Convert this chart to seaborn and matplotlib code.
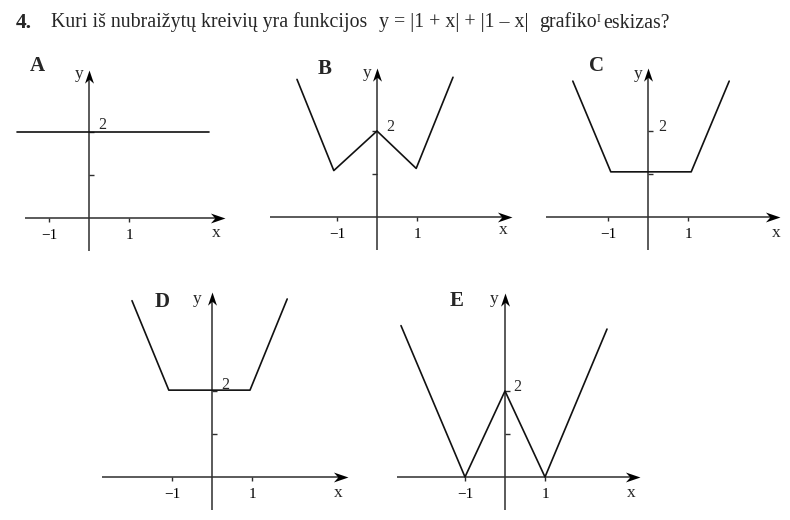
import numpy as np
import pandas as pd
import matplotlib
matplotlib.use("Agg")
import matplotlib.pyplot as plt
import seaborn as sns
from matplotlib.path import Path
from matplotlib.markers import MarkerStyle, TICKDOWN, TICKLEFT, TICKRIGHT
from matplotlib.transforms import Affine2D

sns.set_style("white")
plt.rcParams["font.family"] = ["Liberation Serif", "DejaVu Serif"]

# ---------------- data (sketch curves, in axis units) ----------------
panel_names = ["A", "B", "C", "D", "E"]
x_A = [-1.8, 3.0]
y_A = [2.0, 2.0]
x_B = [-2.0, -1.08, 0.0, 0.98, 1.9]
y_B = [3.2, 1.08, 2.0, 1.13, 3.25]
x_C = [-1.88, -0.93, 1.08, 2.03]
y_C = [3.16, 1.05, 1.05, 3.16]
x_D = [-2.0, -1.08, 0.95, 1.88]
y_D = [4.1, 2.02, 2.02, 4.14]
x_E = [-2.6, -1.0, 0.0, 1.0, 2.55]
y_E = [3.52, 0.0, 2.0, 0.0, 3.44]
x_tick_values = [-1, 1]
x_tick_labels = ["\u22121", "1"]
y_tick_values = [1, 2]
y_label_text = "2"

curves = {"A": (x_A, y_A), "B": (x_B, y_B), "C": (x_C, y_C),
          "D": (x_D, y_D), "E": (x_E, y_E)}

title_num = "4."
title_parts = ["Kuri iš nubraižytų kreivių yra funkcijos",
               "y = |1 + x| + |1 \u2013 x|", "grafiko", "I", "eskizas?"]

# ---------------- layout (pixels, origin top-left) ----------------
W, H = 790, 520
UX, UY = 40.0, 43.0
layout = {
    "A": dict(o=(89, 218), xa=(25, 225), ya=(251, 70), side=1,
              letter=(37, 66), ylab=(79, 74), xlab=(216, 233), two=(98, 125)),
    "B": dict(o=(377, 217), xa=(270, 512), ya=(250, 68), side=-1,
              letter=(325, 69), ylab=(367, 73), xlab=(503, 230), two=(386, 127)),
    "C": dict(o=(648, 217), xa=(546, 780), ya=(250, 68), side=1,
              letter=(597, 66), ylab=(638, 74), xlab=(776, 233), two=(658, 127)),
    "D": dict(o=(212, 477), xa=(102, 348), ya=(510, 292), side=1,
              letter=(162, 302), ylab=(197, 299), xlab=(338, 493), two=(221, 385)),
    "E": dict(o=(505, 477), xa=(397, 640), ya=(510, 293), side=1,
              letter=(457, 301), ylab=(494, 299), xlab=(631, 493), two=(513, 387)),
}

AXIS_COLOR = "#2e2e2e"
CURVE_COLOR = "#111111"

verts = [(0, 0), (-1, 0.34), (-0.7, 0), (-1, -0.34), (0, 0)]
codes = [Path.MOVETO, Path.LINETO, Path.LINETO, Path.LINETO, Path.CLOSEPOLY]
arrow_path = Path(verts, codes)
arrow_right = MarkerStyle(arrow_path)
arrow_up = MarkerStyle(arrow_path, transform=Affine2D().rotate_deg(90))

fig = plt.figure(figsize=(W / 100, H / 100), dpi=100)
fig.patch.set_facecolor("white")


def fx(px):
    return px / W


def fy(py):
    return 1 - py / H


for name in panel_names:
    L = layout[name]
    ox, oy = L["o"]
    ax = fig.add_axes([0, 0, 1, 1])
    ax.set_xlim(-ox / UX, (W - ox) / UX)
    ax.set_ylim(-(H - oy) / UY, oy / UY)
    ax.axis("off")
    ax.patch.set_alpha(0)

    # axes lines with arrows
    xa0, xa1 = (L["xa"][0] - ox) / UX, (L["xa"][1] - ox) / UX
    ya0, ya1 = (oy - L["ya"][0]) / UY, (oy - L["ya"][1]) / UY
    ax.plot([xa0, xa1 - 0.2], [0, 0], color=AXIS_COLOR, lw=1.1,
            solid_capstyle="butt")
    ax.plot([0, 0], [ya0, ya1 - 0.2], color=AXIS_COLOR, lw=1.1,
            solid_capstyle="butt")
    ax.plot([xa1], [0], marker=arrow_right, ms=21, mew=0, color="black",
            ls="none")
    ax.plot([0], [ya1], marker=arrow_up, ms=19, mew=0, color="black",
            ls="none")

    # ticks
    ax.plot(x_tick_values, [0] * len(x_tick_values), ls="none",
            marker=TICKDOWN, ms=3.2, mew=1.0, color=AXIS_COLOR)
    ax.plot([0] * len(y_tick_values), y_tick_values, ls="none",
            marker=TICKRIGHT if L["side"] > 0 else TICKLEFT, ms=3.4,
            mew=1.0, color=AXIS_COLOR)

    # tick labels
    for v, lab in zip(x_tick_values, x_tick_labels):
        ax.annotate(lab, xy=(v, 0), xytext=(0, -17), textcoords="offset pixels",
                    ha="center", va="center", fontsize=11, color="black")

    # curve
    xs, ys = curves[name]
    df = pd.DataFrame({"x": xs, "y": ys})
    sns.lineplot(data=df, x="x", y="y", ax=ax, color=CURVE_COLOR, lw=1.2,
                 sort=False, estimator=None)
    ax.set_xlabel("")
    ax.set_ylabel("")

    # labels
    fig.text(fx(L["letter"][0]), fy(L["letter"][1]), name, ha="center",
             va="center", fontsize=15, fontweight="bold")
    fig.text(fx(L["ylab"][0]), fy(L["ylab"][1]), "y", ha="center",
             va="center", fontsize=12.5)
    fig.text(fx(L["xlab"][0]), fy(L["xlab"][1]), "x", ha="center",
             va="center", fontsize=12.5)
    fig.text(fx(L["two"][0]), fy(L["two"][1]), y_label_text, ha="left",
             va="center", fontsize=11.5)

# title
fig.text(fx(16), fy(27.5), title_num, ha="left", va="baseline", fontsize=15.5,
         fontweight="bold")
title_x = [51, 379, 539, 597, 603]
for px, txt in zip(title_x, title_parts):
    if txt == "I":
        fig.text(fx(px), fy(21.5), txt, ha="left", va="baseline", fontsize=8.5)
    else:
        fig.text(fx(px), fy(27.5), txt, ha="left", va="baseline",
                 fontsize=14.3)

fig.savefig("out.png", dpi=100, facecolor="white")
